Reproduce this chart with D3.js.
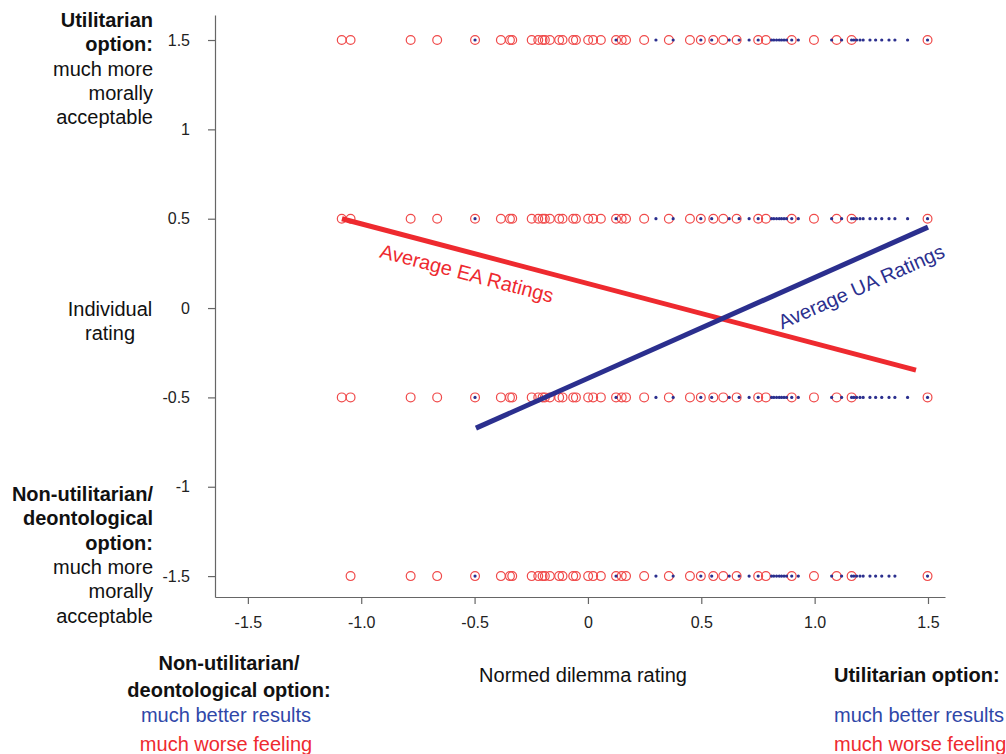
<!DOCTYPE html>
<html><head><meta charset="utf-8">
<script src="https://cdn.jsdelivr.net/npm/d3@7"></script>
<style>
body{margin:0;background:#fff;}
svg{font-family:"Liberation Sans",Arial,Helvetica,sans-serif;}
</style></head>
<body><svg id="c" width="1006" height="754"></svg>
<script>
// ---- data ----
const ratings = [1.5, 0.5, -0.5, -1.5];
const xTicks = [-1.5, -1.0, -0.5, 0, 0.5, 1.0, 1.5];
const xTickLabels = ["-1.5", "-1.0", "-0.5", "0", "0.5", "1.0", "1.5"];
const yTicks = [1.5, 1, 0.5, 0, -0.5, -1, -1.5];
const yTickLabels = ["1.5", "1", "0.5", "0", "-0.5", "-1", "-1.5"];

// EA ratings (red circles): normed dilemma rating per row
const eaX_row15 = [-1.086, -1.047, -0.782, -0.665, -0.498, -0.384, -0.344, -0.334, -0.248, -0.219, -0.200, -0.190, -0.168, -0.127, -0.112, -0.065, -0.053, 0.001, 0.023, 0.057, 0.124, 0.149, 0.168, 0.248, 0.357, 0.450, 0.498, 0.553, 0.597, 0.656, 0.751, 0.785, 0.899, 0.997, 1.097, 1.163, 1.498];
const eaX_row05 = [-1.086, -1.047, -0.782, -0.665, -0.498, -0.384, -0.344, -0.334, -0.248, -0.219, -0.200, -0.190, -0.168, -0.127, -0.112, -0.065, -0.053, 0.001, 0.023, 0.057, 0.124, 0.149, 0.168, 0.248, 0.357, 0.450, 0.498, 0.553, 0.597, 0.656, 0.751, 0.785, 0.899, 0.997, 1.097, 1.163, 1.498];
const eaX_rowm05 = [-1.086, -1.047, -0.782, -0.665, -0.498, -0.384, -0.344, -0.334, -0.248, -0.219, -0.200, -0.190, -0.168, -0.127, -0.112, -0.065, -0.053, 0.001, 0.023, 0.057, 0.124, 0.149, 0.168, 0.248, 0.357, 0.450, 0.498, 0.553, 0.597, 0.656, 0.751, 0.785, 0.899, 0.997, 1.097, 1.163, 1.498];
const eaX_rowm15 = [-1.047, -0.782, -0.665, -0.498, -0.384, -0.344, -0.334, -0.248, -0.219, -0.200, -0.190, -0.168, -0.127, -0.112, -0.065, -0.053, 0.001, 0.023, 0.057, 0.124, 0.149, 0.168, 0.248, 0.357, 0.450, 0.498, 0.553, 0.597, 0.656, 0.751, 0.785, 0.899, 0.997, 1.097, 1.163, 1.498];

// UA ratings (blue dots)
const uaX_row15 = [-0.498, 0.124, 0.300, 0.376, 0.498, 0.546, 0.623, 0.667, 0.711, 0.751, 0.810, 0.820, 0.832, 0.844, 0.854, 0.865, 0.876, 0.899, 0.928, 1.075, 1.119, 1.163, 1.173, 1.185, 1.200, 1.214, 1.244, 1.269, 1.296, 1.328, 1.354, 1.410, 1.498];
const uaX_row05 = [-0.498, 0.124, 0.300, 0.376, 0.498, 0.546, 0.623, 0.667, 0.711, 0.751, 0.810, 0.820, 0.832, 0.844, 0.854, 0.865, 0.876, 0.899, 0.928, 1.075, 1.119, 1.163, 1.173, 1.185, 1.200, 1.214, 1.244, 1.269, 1.296, 1.328, 1.354, 1.410, 1.498];
const uaX_rowm05 = [-0.498, 0.124, 0.300, 0.376, 0.498, 0.546, 0.623, 0.667, 0.711, 0.751, 0.810, 0.820, 0.832, 0.844, 0.854, 0.865, 0.876, 0.899, 0.928, 1.075, 1.119, 1.163, 1.173, 1.185, 1.200, 1.214, 1.244, 1.269, 1.296, 1.328, 1.354, 1.410, 1.498];
const uaX_rowm15 = [-0.498, 0.124, 0.300, 0.376, 0.498, 0.546, 0.623, 0.667, 0.711, 0.751, 0.810, 0.820, 0.832, 0.844, 0.854, 0.865, 0.876, 0.899, 0.928, 1.075, 1.119, 1.163, 1.173, 1.185, 1.200, 1.214, 1.244, 1.269, 1.296, 1.328, 1.354, 1.498];

// regression lines (endpoints)
const eaLine = [[-1.085, 0.50], [1.447, -0.347]];
const uaLine = [[-0.494, -0.672], [1.50, 0.453]];

// ---- layout ----
const svg = d3.select("#c");
const x = d3.scaleLinear().domain([-1.645, 1.575]).range([215, 945]);
const y = d3.scaleLinear().domain([-1.617, 1.64]).range([597, 15]);
const RED = "#ee2a2f", BLUE = "#2b2f8e", AX = "#666";
const FS = "20px";

// axes
const gx = svg.append("g").attr("transform", `translate(0,${y.range()[0]})`)
  .call(d3.axisBottom(x).tickValues(xTicks).tickFormat((d,i)=>xTickLabels[i]).tickSize(7).tickSizeOuter(0));
const gy = svg.append("g").attr("transform", `translate(${x.range()[0]},0)`)
  .call(d3.axisLeft(y).tickValues(yTicks).tickFormat((d,i)=>yTickLabels[i]).tickSize(7).tickSizeOuter(0));
[gx, gy].forEach(g => {
  g.select(".domain").attr("stroke", AX).attr("stroke-width", 1.2);
  g.selectAll(".tick line").attr("stroke", AX).attr("stroke-width", 1.2);
  g.selectAll(".tick text").attr("fill", "#222").style("font-size", "16px").style("font-family", "Liberation Sans, Arial, sans-serif");
});
gx.selectAll(".tick text").attr("dy", "1.3em");
gy.selectAll(".tick text").attr("x", -25);

// points
const eaRows = [eaX_row15, eaX_row05, eaX_rowm05, eaX_rowm15];
const uaRows = [uaX_row15, uaX_row05, uaX_rowm05, uaX_rowm15];
const pts = svg.append("g");
ratings.forEach((r, i) => {
  pts.append("g").selectAll("circle").data(eaRows[i]).join("circle")
    .attr("cx", d => x(d)).attr("cy", y(r)).attr("r", 4.4)
    .attr("fill", "none").attr("stroke", "#f04a4a").attr("stroke-width", 1.2);
  pts.append("g").selectAll("circle").data(uaRows[i]).join("circle")
    .attr("cx", d => x(d)).attr("cy", y(r)).attr("r", 1.6)
    .attr("fill", BLUE);
});

// lines
const line = d3.line().x(d => x(d[0])).y(d => y(d[1]));
svg.append("path").datum(eaLine).attr("d", line).attr("stroke", RED).attr("stroke-width", 5).attr("fill", "none");
svg.append("path").datum(uaLine).attr("d", line).attr("stroke", BLUE).attr("stroke-width", 5).attr("fill", "none");

// line labels
function angleOf(seg){ const dx = x(seg[1][0]) - x(seg[0][0]), dy = y(seg[1][1]) - y(seg[0][1]); return Math.atan2(dy, dx) * 180 / Math.PI; }
svg.append("text").text("Average EA Ratings").attr("fill", RED).style("font-size", FS)
  .attr("text-anchor", "middle")
  .attr("transform", `translate(465,280) rotate(${angleOf(eaLine)})`);
svg.append("text").text("Average UA Ratings").attr("fill", BLUE).style("font-size", FS)
  .attr("text-anchor", "middle")
  .attr("transform", `translate(864,293) rotate(${angleOf(uaLine)})`);

// left labels
function lines(xp, y0, dy, arr, anchor){
  arr.forEach((l, i) => {
    svg.append("text").attr("x", xp).attr("y", y0 + i*dy).attr("text-anchor", anchor)
      .attr("fill", l.c || "#111").style("font-weight", l.b ? "bold" : "normal").style("font-size", FS).text(l.t);
  });
}
lines(153, 27, 24.3, [{t:"Utilitarian",b:1},{t:"option:",b:1},{t:"much more"},{t:"morally"},{t:"acceptable"}], "end");
lines(110, 316, 24.3, [{t:"Individual"},{t:"rating"}], "middle");
lines(153, 501, 24.3, [{t:"Non-utilitarian/",b:1},{t:"deontological",b:1},{t:"option:",b:1},{t:"much more"},{t:"morally"},{t:"acceptable"}], "end");

// bottom labels
lines(229, 670, 27, [{t:"Non-utilitarian/",b:1},{t:"deontological option:",b:1}], "middle");
lines(226, 722, 29, [{t:"much better results",c:"#2f47a8"},{t:"much worse feeling",c:RED}], "middle");
svg.append("text").attr("x", 583).attr("y", 682).attr("text-anchor", "middle").attr("fill", "#111").style("font-size", FS).text("Normed dilemma rating");
lines(834, 682, 0, [{t:"Utilitarian option:",b:1}], "start");
lines(834, 722, 29, [{t:"much better results",c:"#2f47a8"},{t:"much worse feeling",c:RED}], "start");
</script></body></html>
